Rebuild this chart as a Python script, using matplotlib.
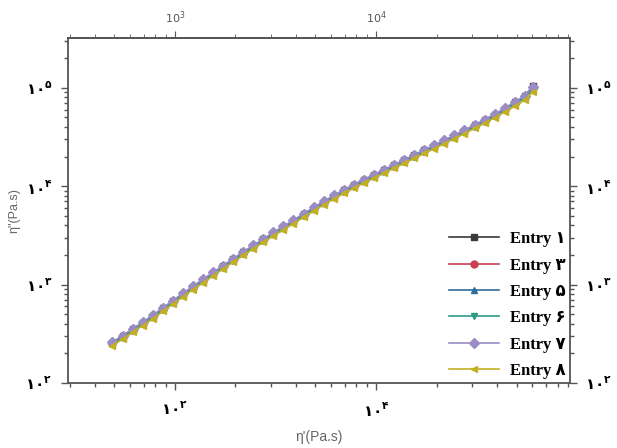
#!/usr/bin/env python
"""eta'' vs eta' (log-log), six entries almost on top of each other."""
import matplotlib
matplotlib.use("Agg")
import matplotlib.pyplot as plt
from matplotlib.font_manager import FontProperties
from matplotlib.ticker import FixedLocator, FixedFormatter, LogLocator, NullFormatter

plt.rcParams["mathtext.fontset"] = "dejavusans"

# eta' (Pa.s), shared sweep
eta_p = [490, 550, 617, 692, 776, 871, 977, 1096, 1230, 1380, 1549, 1738, 1950,
         2188, 2455, 2754, 3090, 3467, 3890, 4365, 4898, 5495, 6166, 6918, 7762,
         8710, 9772, 10965, 12303, 13804, 15488, 17378, 19498, 21878, 24547,
         27542, 30903, 34674, 38905, 43652, 48978, 54954, 60256]

# eta'' (Pa.s) per entry
entry_1 = [258, 301, 351, 412, 483, 573, 681, 807, 954, 1121, 1317, 1547, 1818,
           2126, 2487, 2888, 3355, 3878, 4483, 5195, 6034, 6944, 7972, 9070, 10295,
           11577, 12990, 14575, 16353, 18349, 20588, 23099, 25918, 29080, 32629,
           36779, 41553, 47055, 53407, 61461, 71056, 82149, 104700]
entry_3 = [256, 298, 347, 408, 479, 568, 675, 799, 944, 1110, 1304, 1532, 1800,
           2105, 2462, 2859, 3322, 3840, 4439, 5144, 5975, 6876, 7894, 8981, 10194,
           11464, 12862, 14432, 16192, 18169, 20386, 22872, 25664, 28795, 32309,
           36419, 41145, 46593, 52884, 60859, 70360, 81343, 100000]
entry_5 = [253, 295, 344, 404, 474, 562, 668, 791, 935, 1099, 1291, 1517, 1782,
           2084, 2438, 2831, 3289, 3802, 4395, 5093, 5916, 6808, 7816, 8892, 10093,
           11350, 12735, 14289, 16032, 17989, 20184, 22646, 25410, 28510, 31989,
           36058, 40738, 46132, 52360, 60256, 69663, 80538, 98000]
entry_6 = [249, 291, 339, 398, 467, 554, 658, 779, 921, 1083, 1272, 1494, 1755,
           2053, 2401, 2789, 3240, 3745, 4329, 5017, 5827, 6706, 7699, 8759, 9942,
           11180, 12544, 14075, 15792, 17719, 19881, 22306, 25029, 28082, 31509,
           35517, 40127, 45440, 51575, 59352, 68618, 79330, 96000]
entry_7 = [261, 304, 354, 416, 488, 579, 688, 815, 963, 1132, 1330, 1563, 1835,
           2147, 2511, 2916, 3388, 3916, 4527, 5246, 6093, 7012, 8050, 9159, 10396,
           11691, 13117, 14718, 16513, 18529, 20790, 23325, 26172, 29365, 32949,
           37140, 41960, 47516, 53931, 62064, 71753, 82954, 103000]
entry_8 = [240, 280, 327, 384, 450, 534, 635, 751, 888, 1044, 1226, 1441, 1693,
           1980, 2316, 2689, 3125, 3612, 4175, 4838, 5620, 6468, 7425, 8447, 9588,
           10783, 12098, 13575, 15230, 17090, 19175, 21514, 24140, 27085, 30390,
           34255, 38701, 43825, 49742, 56640, 65000, 75000, 91000]

series = [entry_1, entry_3, entry_5, entry_6, entry_7, entry_8]
labels = ["Entry ۱", "Entry ۳", "Entry ۵", "Entry ۶", "Entry ۷", "Entry ۸"]
colors = ["#3a3a3a", "#c8404f", "#2f6d9c", "#2e9a84", "#9b8cc4", "#c2b021"]
markers = ["s", "o", "^", "v", "D", "<"]

x_ticks = [1e3, 1e4]
x_bottom_labels = [r"$\mathbf{۱۰^{۲}}$", r"$\mathbf{۱۰^{۴}}$"]
x_top_labels = [r"$10^{3}$", r"$10^{4}$"]
y_ticks = [1e2, 1e3, 1e4, 1e5]
y_labels = [r"$\mathbf{۱۰^{۲}}$", r"$\mathbf{۱۰^{۳}}$", r"$\mathbf{۱۰^{۴}}$", r"$\mathbf{۱۰^{۵}}$"]

fig = plt.figure(figsize=(6.17, 4.48), dpi=100)
ax = fig.add_axes([0.110, 0.145, 0.814, 0.770])

for ys, lab, c, m in zip(series, labels, colors, markers):
    ax.plot(eta_p, ys, color=c, marker=m, markersize=5, linewidth=1.2,
            markeredgecolor=c, label=lab)

ax.set_xscale("log")
ax.set_yscale("log")
ax.set_xlim(294, 92300)
ax.set_ylim(1e2, 3.2e5)

frame_c = "#555555"
for sp in ax.spines.values():
    sp.set_color(frame_c)
    sp.set_linewidth(1.3)

ax.xaxis.set_major_locator(FixedLocator(x_ticks))
ax.xaxis.set_major_formatter(FixedFormatter(x_bottom_labels))
ax.xaxis.set_minor_locator(LogLocator(base=10, subs=range(2, 10)))
ax.xaxis.set_minor_formatter(NullFormatter())
ax.yaxis.set_major_locator(FixedLocator(y_ticks))
ax.yaxis.set_major_formatter(FixedFormatter(y_labels))
ax.yaxis.set_minor_locator(LogLocator(base=10, subs=range(2, 10)))
ax.yaxis.set_minor_formatter(NullFormatter())

ax.tick_params(which="both", direction="out", color=frame_c, width=1.0,
               right=True, labelright=True, labelsize=11, labelcolor="black")
ax.tick_params(which="major", length=5)
ax.tick_params(which="minor", length=3)
ax.tick_params(axis="x", pad=8)
ax.tick_params(axis="y", pad=6)

top = ax.secondary_xaxis("top")
top.xaxis.set_major_locator(FixedLocator(x_ticks))
top.xaxis.set_major_formatter(FixedFormatter(x_top_labels))
top.xaxis.set_minor_locator(LogLocator(base=10, subs=range(2, 10)))
top.xaxis.set_minor_formatter(NullFormatter())
top.spines["top"].set_color(frame_c)
top.spines["top"].set_linewidth(1.3)
top.tick_params(which="both", direction="out", color=frame_c, labelsize=8,
                labelcolor="#555555")
top.tick_params(which="major", length=5)
top.tick_params(which="minor", length=3)

ax.set_xlabel("η'(Pa.s)", fontsize=10, color="#666666", family="Liberation Sans",
              labelpad=8)
ax.set_ylabel('η"(Pa.s)', fontsize=9, color="#666666", family="Liberation Sans",
              labelpad=4)

leg_font = FontProperties(family=["Liberation Serif", "DejaVu Sans"], weight="bold", size=12)
ax.legend(loc="lower right", frameon=False, prop=leg_font, handlelength=3.0,
          labelspacing=0.62, borderpad=0.0, borderaxespad=0.25, handletextpad=0.7,
          bbox_to_anchor=(1.0, 0.0))

fig.savefig("out.png", dpi=100)
